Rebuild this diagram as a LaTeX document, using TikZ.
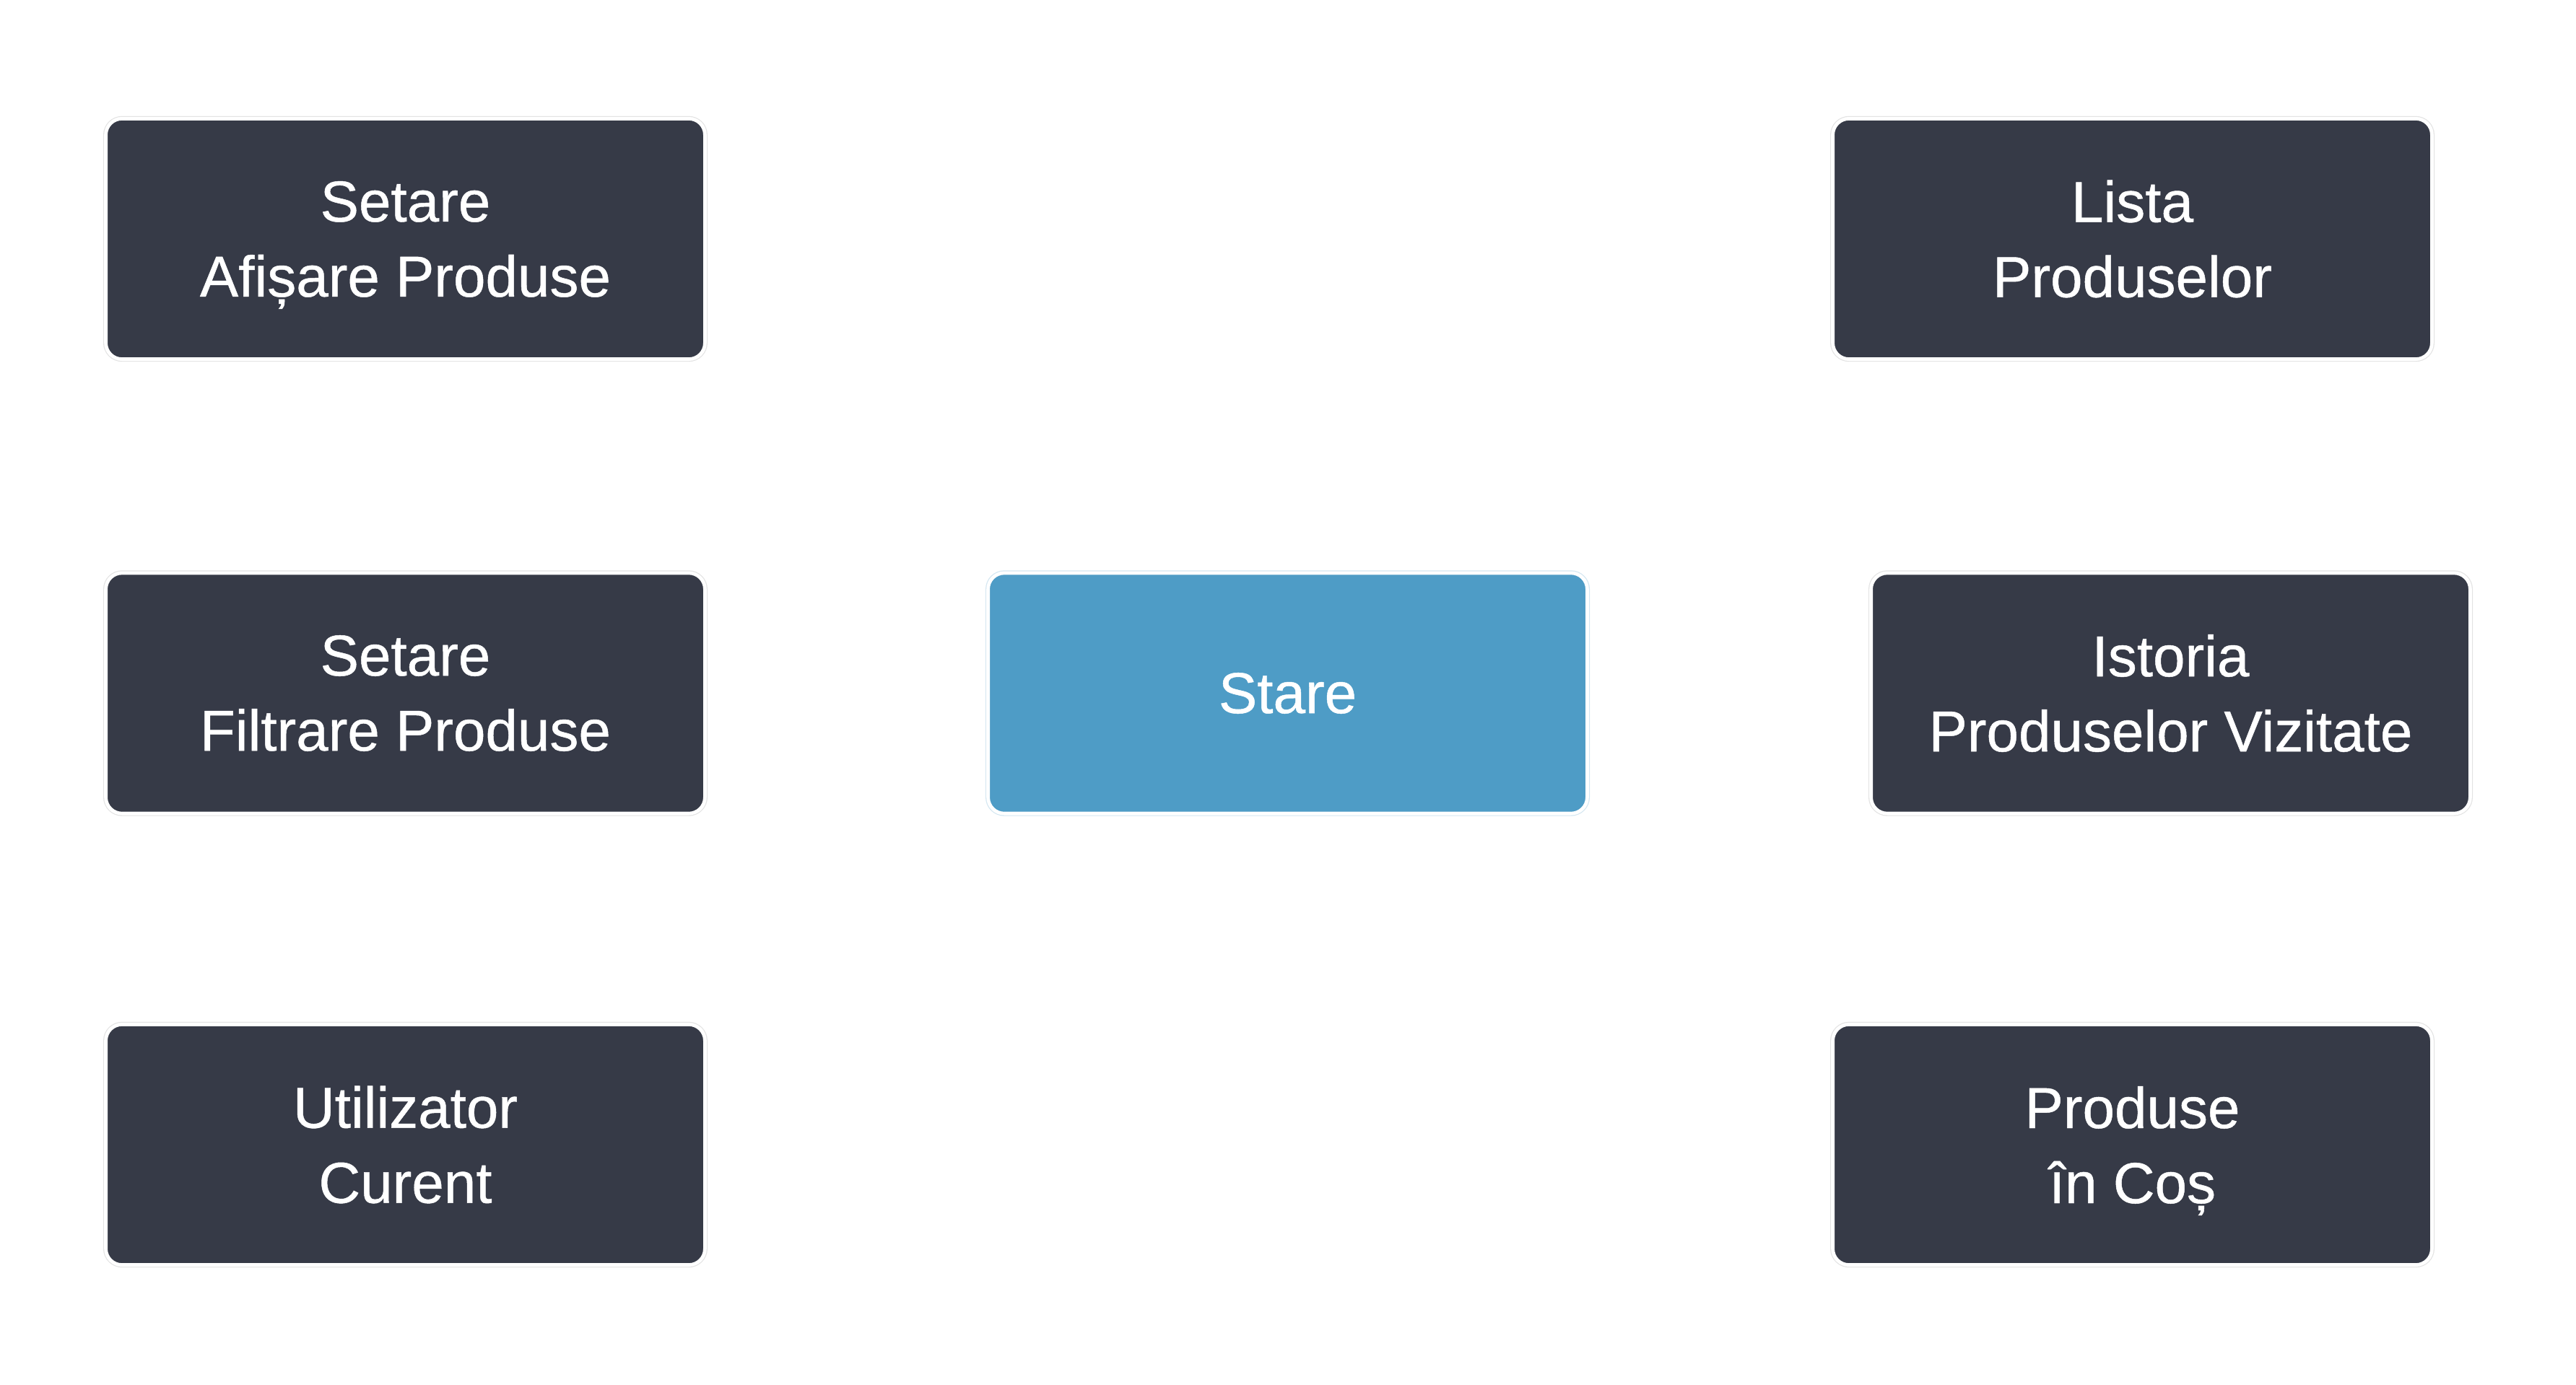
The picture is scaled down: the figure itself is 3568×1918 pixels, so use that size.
\documentclass[tikz,border=0pt]{standalone}
\usepackage{fontspec}
\setmainfont{Liberation Sans}
\newfontfamily\boxfont[FakeBold=0.6]{Liberation Sans}
\usetikzlibrary{positioning}
\definecolor{boxdark}{HTML}{363A47}
\definecolor{boxblue}{HTML}{4E9CC6}
\tikzset{every box/.style={rounded corners=5.6pt, minimum width=207.45pt, minimum height=83.3pt,
            align=center, text=white, font=\boxfont\fontsize{20}{26}\selectfont,
            draw=white, line width=1.2pt},
         item/.style={every box, fill=boxdark, preaction={draw=gray!22, line width=1.8pt}},
         core/.style={every box, fill=boxblue, preaction={draw=boxblue!25, line width=1.8pt}},
        }

\begin{document}
\begin{tikzpicture}[x=0.25pt,y=-0.25pt]
        \useasboundingbox (0,0) rectangle (3568,1918);
        \node[item](afisare)at(561.5,331){Setare\\\smash{Afișare Produse}};
        \node[item](filtrare)at(561.5,960.5){Setare\\Filtrare Produse};
        \node[item](utilizator)at(561.5,1586){Utilizator\\Curent};
        \node[core](stare)at(1783.5,960.5){Stare};
        \node[item](lista)at(2953.5,331){Lista\\Produselor};
        \node[item](istoria)at(3006.5,960.5){Istoria\\Produselor Vizitate};
        \node[item](cos)at(2953.5,1586){Produse\\\smash{în Coș}};
    \end{tikzpicture}
\end{document}
